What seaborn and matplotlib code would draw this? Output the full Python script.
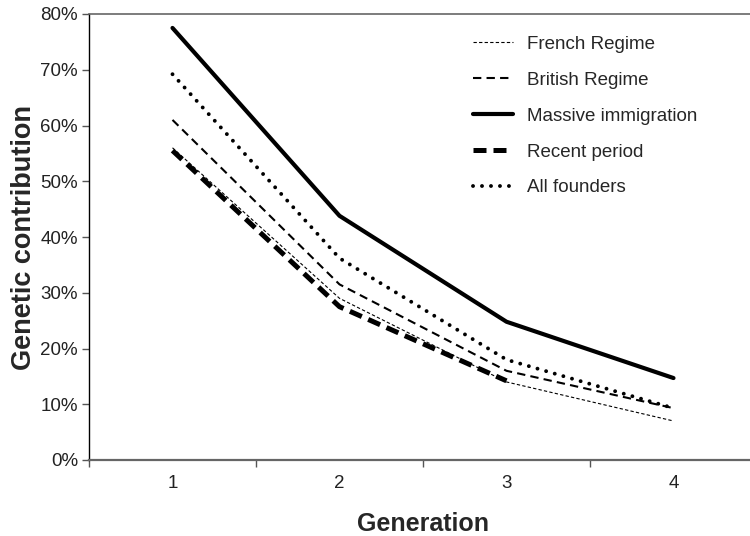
import matplotlib
matplotlib.use("Agg")
import matplotlib.pyplot as plt
import seaborn as sns
import pandas as pd
from matplotlib.ticker import FixedLocator, FuncFormatter

generations = [1, 2, 3, 4]
french_regime = [56.0, 29.0, 14.0, 7.0]
british_regime = [61.0, 31.5, 16.0, 9.3]
massive_immigration = [77.5, 43.8, 24.8, 14.7]
recent_period = [55.5, 27.5, 14.2]
all_founders = [69.2, 36.2, 18.0, 9.3]

series = [
    ("French Regime", french_regime, dict(lw=0.8, ls=(0, (3, 2)))),
    ("British Regime", british_regime, dict(lw=1.5, ls=(0, (4, 2.5)))),
    ("Massive immigration", massive_immigration, dict(lw=3.0, ls="-")),
    ("Recent period", recent_period, dict(lw=3.6, ls=(0, (2.6, 1.4)))),
    ("All founders", all_founders, dict(lw=2.8, ls=(0, (0.01, 2.3)), dash_capstyle="round")),
]

sns.set_style("white")
plt.rcParams["font.family"] = ["Liberation Sans", "DejaVu Sans"]

fig = plt.figure(figsize=(7.5, 5.36), dpi=100)
ax = fig.add_axes([89 / 750, 1 - 460 / 536, 668 / 750, 446 / 536])

for name, vals, st in series:
    df = pd.DataFrame({"Generation": generations[:len(vals)], "value": vals})
    sns.lineplot(data=df, x="Generation", y="value", ax=ax, color="black",
                 linewidth=st["lw"], linestyle=st["ls"], label=name, sort=False,
                 dash_capstyle=st.get("dash_capstyle", "butt"))

ax.set_xlim(0.5, 4.5)
ax.set_ylim(0, 80)
ax.set_yticks(range(0, 81, 10))
ax.yaxis.set_major_formatter(FuncFormatter(lambda v, p: f"{int(v)}%"))
ax.set_xticks(generations)
ax.xaxis.set_minor_locator(FixedLocator([0.5, 1.5, 2.5, 3.5]))
ax.tick_params(axis="x", which="major", length=0, labelsize=13.5, pad=11, colors="#222222")
ax.tick_params(axis="x", which="minor", length=5, width=1, color="#555555", direction="out", bottom=True)
ax.tick_params(axis="y", which="major", length=5, width=1, color="#555555", direction="out", left=True,
               labelsize=13.5, pad=3, labelcolor="#222222")

ax.spines["left"].set_color("black")
ax.spines["left"].set_linewidth(1.0)
ax.spines["bottom"].set_color("#666666")
ax.spines["bottom"].set_linewidth(1.6)
ax.spines["top"].set_color("#666666")
ax.spines["top"].set_linewidth(1.2)
ax.spines["right"].set_visible(False)

ax.set_xlabel("Generation", fontsize=18, fontweight="bold", labelpad=14)
ax.set_ylabel("Genetic contribution", fontsize=19.5, fontweight="bold", labelpad=2)

leg = ax.legend(loc="upper left", bbox_to_anchor=(456 / 750, 1 - 19 / 536), bbox_transform=fig.transFigure,
                frameon=False, fontsize=13.5, handlelength=2.15, handletextpad=0.75, labelspacing=1.0)

fig.savefig("out.png", dpi=100)
